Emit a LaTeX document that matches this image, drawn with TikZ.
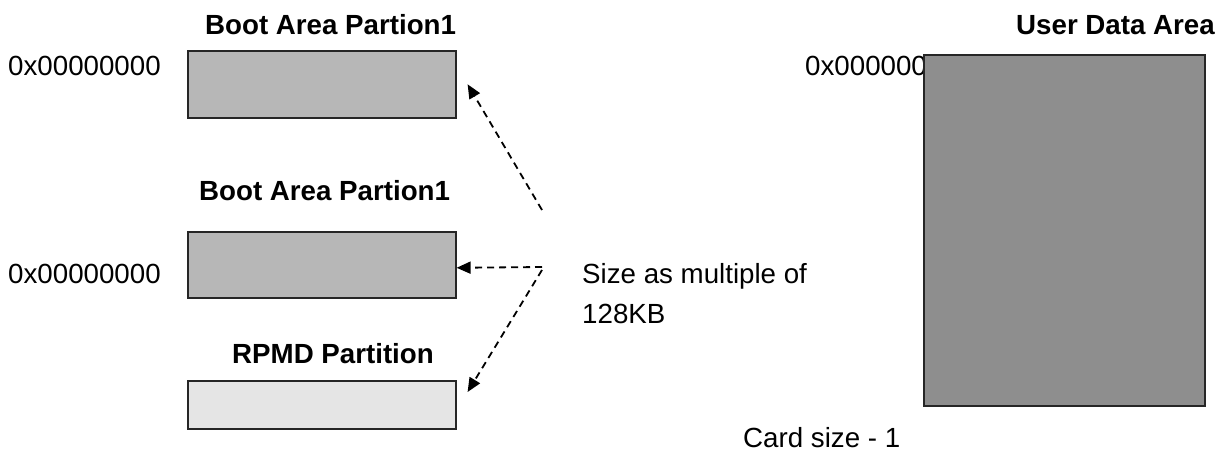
\documentclass[tikz,border=0pt]{standalone}
\usepackage{fontspec}
\setmainfont{Liberation Sans}
\usetikzlibrary{arrows.meta}
\begin{document}
\begin{tikzpicture}[x=1pt,y=-1pt,
  lbl/.style={anchor=base west, inner sep=0pt, font=\fontsize{27.7}{33}\selectfont},
  ttl/.style={anchor=base west, inner sep=0pt, font=\fontsize{27.7}{33}\selectfont\bfseries},
  part/.style={draw=black!85, line width=1.6pt, anchor=north west, inner sep=0pt},
  ptr/.style={draw=black, line width=1.8pt, dash pattern=on 7pt off 5pt, -{Triangle[length=14pt,width=12pt]}}]
\useasboundingbox (0,0) rectangle (1221,452);
% titles
\node[ttl] (t1) at (205,35) {Boot Area Partion1};
\node[ttl] (t2) at (199,200) {Boot Area Partion1};
\node[ttl] (t3) at (232,363) {RPMD Partition};
\node[ttl] (t4) at (1016,35) {User Data Area};
% address labels
\node[lbl] (a1) at (8,75) {0x00000000};
\node[lbl] (a2) at (8,283) {0x00000000};
\node[lbl] (a3) at (805,75) {0x00000000};
% partitions
\node[part, fill={rgb,255:red,183;green,183;blue,183}, minimum width=268pt, minimum height=67pt] (b1) at (187,50) {};
\node[part, fill={rgb,255:red,183;green,183;blue,183}, minimum width=268pt, minimum height=66pt] (b2) at (187,231) {};
\node[part, fill={rgb,255:red,229;green,229;blue,229}, minimum width=268pt, minimum height=48pt] (b3) at (187,380) {};
\node[part, fill={rgb,255:red,142;green,142;blue,142}, minimum width=281pt, minimum height=351pt] (b4) at (923,54) {};
% notes
\node[lbl] (sz1) at (582,283) {Size as multiple of};
\node[lbl] (sz2) at (582,323) {128KB};
\node[lbl] (cs) at (743,447) {Card size - 1};
% arrows
\coordinate (s1) at (542,210);
\coordinate (s2) at (542,267);
\coordinate (s3) at (542,270);
\draw[ptr] (s1) -- ([xshift=11pt]b1.east);
\draw[ptr] (s2) -- ([yshift=-3pt]b2.east);
\draw[ptr] (s3) -- ([shift={(11pt,-12pt)}]b3.north east);
\end{tikzpicture}
\end{document}
